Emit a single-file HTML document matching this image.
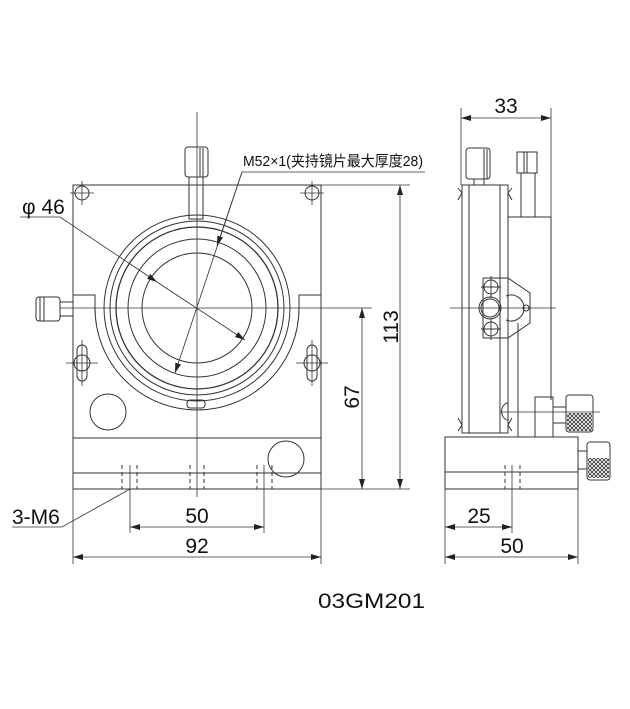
<!DOCTYPE html>
<html><head><meta charset="utf-8"><style>
html,body{margin:0;padding:0;background:#fff;}
svg{display:block}
text{font-family:"Liberation Sans Narrow","Liberation Sans","Noto Sans CJK SC",sans-serif;fill:#111}
</style></head><body>
<svg width="630" height="709" viewBox="0 0 630 709" xmlns="http://www.w3.org/2000/svg">
<defs>
<marker id="a" viewBox="0 0 10 6" refX="10" refY="3" markerWidth="10" markerHeight="6" orient="auto-start-reverse" markerUnits="userSpaceOnUse"><path d="M0,0 L10,3 L0,6 z" fill="#222"/></marker>
<pattern id="kn" width="4" height="4" patternUnits="userSpaceOnUse"><path d="M0,0L4,4M4,0L0,4" stroke="#333" stroke-width="0.8"/></pattern>
</defs>
<g fill="none" stroke="#333" stroke-width="1">
<path d="M73,185 H321 V438 H73 Z"/>
<path d="M73,438 H321 V489 H73 Z"/>
<line x1="73" y1="473" x2="321" y2="473"/>
<path d="M73,295 H95 V308 A102,102 0 0 0 299,308 V295 H321"/>
<circle cx="197" cy="308" r="93"/>
<circle cx="197" cy="308" r="87"/>
<circle cx="197" cy="308" r="81" stroke-width="1.3"/>
<circle cx="197" cy="308" r="69"/>
<circle cx="197" cy="308" r="55"/>
<rect x="187" y="400" width="18" height="8" rx="3"/>
<rect x="185" y="147" width="23" height="30" rx="3"/>
<line x1="200" y1="148" x2="200" y2="177"/><line x1="203" y1="148" x2="203" y2="177"/>
<rect x="189" y="177" width="14" height="42"/>
<rect x="36" y="297" width="24" height="24" rx="3"/>
<rect x="60" y="302" width="13" height="14"/>
<line x1="40" y1="297" x2="40" y2="321"/><line x1="44" y1="297" x2="44" y2="321"/>
<circle cx="82" cy="193" r="7"/><circle cx="312" cy="193" r="7"/>
<path d="M70,193H94M82,181V205M300,193H324M312,181V205" stroke-width="0.8"/>
<rect x="77" y="345" width="10" height="36" rx="5"/><circle cx="82" cy="363" r="8"/>
<rect x="307" y="345" width="10" height="36" rx="5"/><circle cx="312" cy="363" r="8"/>
<path d="M66,363H98M82,340V386M296,363H328M312,340V386" stroke-width="0.8"/>
<circle cx="108" cy="412" r="18"/>
<circle cx="286" cy="459" r="18"/>
<g stroke-dasharray="4,3">
<path d="M122,465V489M137,465V489M190,465V489M204,465V489M257,465V489M272,465V489"/>
</g>
<line x1="197" y1="112" x2="197" y2="497" stroke-width="0.8"/>
<line x1="60" y1="308" x2="372" y2="308" stroke-width="0.8"/>
<line x1="321" y1="185" x2="410" y2="185" stroke-width="0.8"/>
<line x1="321" y1="489" x2="410" y2="489" stroke-width="0.8"/>
<line x1="400" y1="185" x2="400" y2="489" marker-start="url(#a)" marker-end="url(#a)" stroke-width="0.8"/>
<line x1="362" y1="308" x2="362" y2="489" marker-start="url(#a)" marker-end="url(#a)" stroke-width="0.8"/>
<line x1="130" y1="465" x2="130" y2="533" stroke-width="0.8"/>
<line x1="264" y1="465" x2="264" y2="533" stroke-width="0.8"/>
<line x1="130" y1="527" x2="264" y2="527" marker-start="url(#a)" marker-end="url(#a)" stroke-width="0.8"/>
<line x1="73" y1="489" x2="73" y2="564" stroke-width="0.8"/>
<line x1="321" y1="489" x2="321" y2="564" stroke-width="0.8"/>
<line x1="73" y1="557" x2="321" y2="557" marker-start="url(#a)" marker-end="url(#a)" stroke-width="0.8"/>
<path d="M12,527H62L130,489" stroke-width="0.8"/>
<path d="M20,217H60L157,282" stroke-width="0.8" marker-end="url(#a)"/>
<line x1="157" y1="282" x2="245" y2="340" stroke-width="0.8" marker-end="url(#a)"/>
<path d="M425,172H242L175,373" stroke-width="0.8" marker-end="url(#a)"/>
<line x1="242" y1="172" x2="217" y2="246" stroke-width="0.8" marker-end="url(#a)"/>

<rect x="462" y="185" width="46" height="248"/>
<line x1="469" y1="185" x2="469" y2="433"/><line x1="500" y1="185" x2="500" y2="433"/>
<path d="M458,188 L462,193 L458,200 M512,188 L508,193 L512,200 M458,418 L462,425 L458,431 M512,418 L508,425 L512,431"/>
<rect x="466" y="148" width="24" height="31" rx="3"/>
<line x1="484" y1="149" x2="484" y2="179"/><line x1="487" y1="149" x2="487" y2="179"/>
<rect x="474" y="179" width="10" height="6"/>
<rect x="517" y="152" width="20" height="21"/>
<line x1="524" y1="152" x2="524" y2="173"/><line x1="527" y1="152" x2="527" y2="173"/>
<rect x="521" y="173" width="14" height="44"/>
<path d="M508,217 H551 V400"/>
<line x1="518" y1="323" x2="518" y2="437"/>
<rect x="535" y="397" width="18" height="40"/>
<rect x="553" y="407" width="13" height="16"/>
<rect x="566" y="395" width="27" height="37" rx="3"/>
<rect x="567" y="413" width="25" height="18" fill="url(#kn)" stroke="none"/>
<path d="M508,403 A6,8 0 0 0 508,420"/>
<line x1="500" y1="412" x2="600" y2="412" stroke-width="0.8"/>
<path d="M483,278 H508 L530,293 V323 L508,338 H483"/>
<line x1="483" y1="278" x2="483" y2="338"/>
<circle cx="491" cy="287" r="7"/><circle cx="491" cy="329" r="7"/>
<path d="M481,287H501M491,276V298M481,329H501M491,318V340" stroke-width="0.9"/>
<circle cx="490" cy="308" r="11"/><circle cx="490" cy="308" r="9"/>
<path d="M506,296 A13,13 0 1 1 506,320"/>
<circle cx="526" cy="308" r="3"/>
<line x1="450" y1="308" x2="556" y2="308" stroke-width="0.8"/>
<rect x="445" y="437" width="133" height="52"/>
<line x1="445" y1="472" x2="578" y2="472"/>
<rect x="578" y="451" width="9" height="18"/>
<rect x="587" y="442" width="23" height="38" rx="3"/>
<rect x="588" y="458" width="21" height="20" fill="url(#kn)" stroke="none"/>
<g stroke-dasharray="4,3"><path d="M505,465V489M520,465V489"/></g>
<line x1="461" y1="108" x2="461" y2="185" stroke-width="0.8"/>
<line x1="551" y1="108" x2="551" y2="217" stroke-width="0.8"/>
<line x1="461" y1="118" x2="551" y2="118" marker-start="url(#a)" marker-end="url(#a)" stroke-width="0.8"/>
<line x1="445" y1="489" x2="445" y2="564" stroke-width="0.8"/>
<line x1="512" y1="465" x2="512" y2="533" stroke-width="0.8"/>
<line x1="578" y1="489" x2="578" y2="564" stroke-width="0.8"/>
<line x1="445" y1="527" x2="512" y2="527" marker-start="url(#a)" marker-end="url(#a)" stroke-width="0.8"/>
<line x1="445" y1="557" x2="578" y2="557" marker-start="url(#a)" marker-end="url(#a)" stroke-width="0.8"/>
</g>
<g font-size="21">
<text x="197" y="523" text-anchor="middle">50</text>
<text x="197" y="553" text-anchor="middle">92</text>
<text x="12" y="524">3-M6</text>
<text x="22" y="214">φ 46</text>
<text transform="translate(398,327) rotate(-90)" text-anchor="middle">113</text>
<text transform="translate(359,397) rotate(-90)" text-anchor="middle">67</text>
<text x="506" y="113" text-anchor="middle">33</text>
<text x="479" y="523" text-anchor="middle">25</text>
<text x="512" y="553" text-anchor="middle">50</text>
<text x="318" y="608" textLength="107" lengthAdjust="spacingAndGlyphs">03GM201</text>
</g>
<text x="243" y="166" font-size="15" textLength="180" lengthAdjust="spacingAndGlyphs">M52×1(夹持镜片最大厚度28)</text>
</svg>
</body></html>
